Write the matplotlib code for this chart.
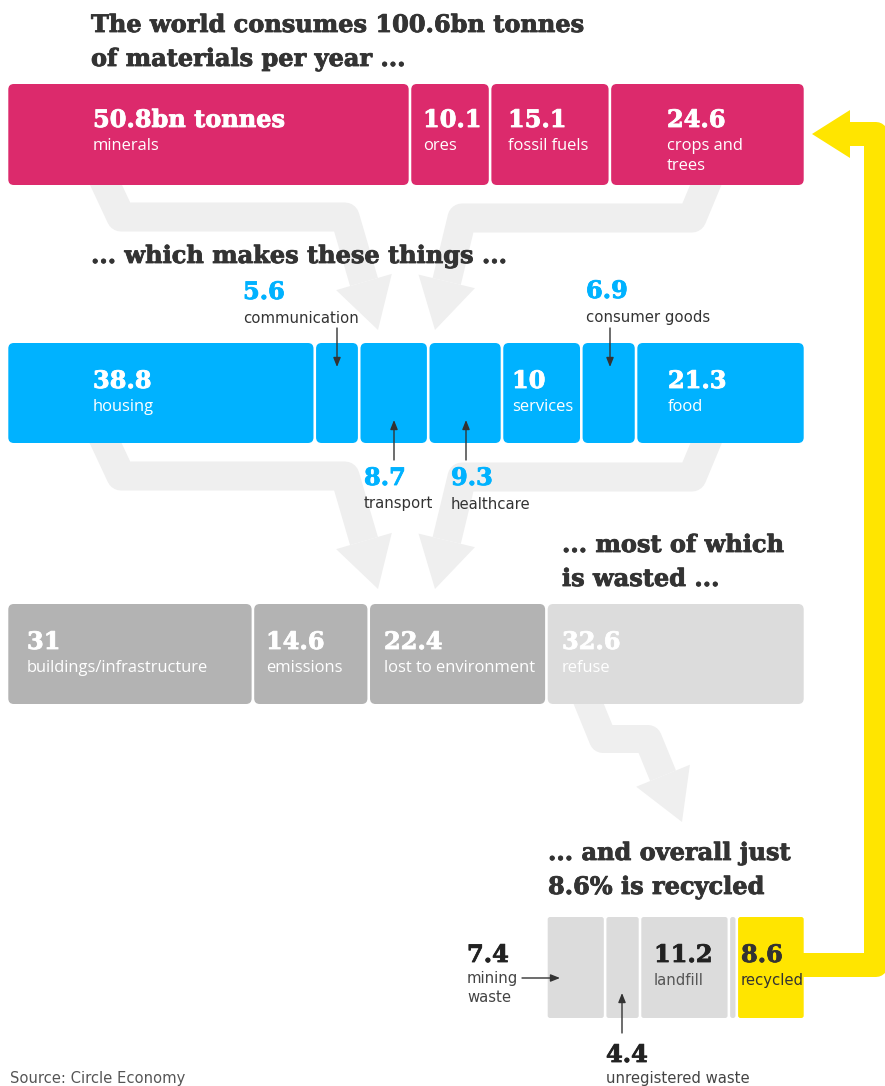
"""Where the world's 100.6bn tonnes of materials go, as a stacked-block flow graphic."""

import matplotlib.pyplot as plt
import matplotlib.patheffects as pe
import numpy as np
from matplotlib.patches import FancyBboxPatch, Polygon

OUTPUT_NAME = "out.png"

# bn tonnes per year
material_labels = ["minerals", "ores", "fossil fuels", "crops and\ntrees"]
material_values = [50.8, 10.1, 15.1, 24.6]

product_labels = ["housing", "communication", "transport", "healthcare",
                  "services", "consumer goods", "food"]
product_values = [38.8, 5.6, 8.7, 9.3, 10, 6.9, 21.3]

fate_labels = ["buildings/infrastructure", "emissions", "lost to environment", "refuse"]
fate_values = [31, 14.6, 22.4, 32.6]

waste_labels = ["mining\nwaste", "unregistered waste", "landfill", "", "recycled"]
waste_values = [7.4, 4.4, 11.2, 1.0, 8.6]

PINK = "#dc2a6c"
BLUE = "#00b2ff"
DARK_GREY = "#b3b3b3"
LIGHT_GREY = "#dcdcdc"
YELLOW = "#ffe500"
FLOW = "#efefef"
INK = "#333333"

SERIF = "DejaVu Serif"
SANS = "Open Sans"
AGATE = "DejaVu Sans"
NUM_PT = 17.3
LAB_PT = 11.9
AGATE_PT = 10.7

# x axis is in bn tonnes, y axis in pixels from the top
LEFT_PX = 7
SCALE = 798 / sum(material_values)


def u(px):
    """Pixel x position -> axis units."""
    return (px - LEFT_PX) / SCALE


def bold(color):
    return [pe.withStroke(linewidth=0.6, foreground=color)]


def draw_row(ax, values, colors, top, bottom, start=0.0, rounding=0.7):
    lefts = start + np.concatenate([[0], np.cumsum(values)[:-1]])
    gap = 1.3 / SCALE
    for left, value, color in zip(lefts, values, colors):
        ax.add_patch(FancyBboxPatch(
            (left + gap, top), value - 2 * gap, bottom - top,
            boxstyle=f"round,pad=0,rounding_size={rounding}",
            mutation_aspect=SCALE, fc=color, ec="none", zorder=3,
        ))
    return lefts


def flow(ax, pts, tip, width=29, color=FLOW, head_len=50, head_w=58, zorder=1):
    pts = np.array(pts, dtype=float)
    tip = np.array(tip, dtype=float)
    d = tip - pts[-1]
    d /= np.hypot(*d)
    base = tip - d * head_len
    perp = np.array([d[1], -d[0]])
    line = np.vstack([pts, base])
    ax.plot(u(line[:, 0]), line[:, 1], color=color, lw=width * 0.72,
            solid_joinstyle="round", solid_capstyle="butt", zorder=zorder)
    tri = np.array([base + perp * head_w / 2, tip, base - perp * head_w / 2])
    tri[:, 0] = u(tri[:, 0])
    ax.add_patch(Polygon(tri, closed=True, fc=color, ec="none", zorder=zorder))


def pointer(ax, x0, y0, x1, y1):
    ax.annotate("", xy=(u(x1), y1), xytext=(u(x0), y0), zorder=6,
                arrowprops=dict(arrowstyle="-|>,head_length=0.55,head_width=0.22",
                                color=INK, lw=1, shrinkA=0, shrinkB=0))


def value_text(ax, x, y, number, label, color, label_color=None, font=SANS,
               size=LAB_PT, gap=23, step=20):
    ax.text(u(x), y, number, family=SERIF, weight="bold", size=NUM_PT,
            color=color, va="baseline", zorder=6, path_effects=bold(color))
    for i, line in enumerate(label.split("\n")):
        ax.text(u(x), y + gap + i * step, line, family=font, size=size,
                color=label_color or color, va="baseline", zorder=6)


def heading(ax, x, y, lines):
    for i, line in enumerate(lines):
        ax.text(u(x), y + i * 34, line, family=SERIF, weight="bold", size=NUM_PT,
                color=INK, va="baseline", zorder=6, path_effects=bold(INK))


def fmt(v):
    return f"{v:g}"


def main():
    fig = plt.figure(figsize=(8.85, 10.86), dpi=100)
    ax = fig.add_axes([0, 0, 1, 1])
    ax.set_xlim(u(0), u(885))
    ax.set_ylim(1086, 0)
    ax.axis("off")

    # grey flow bands between the rows
    for shift in (0, 259):
        flow(ax, [(99, 170 + shift), (121, 217 + shift), (345, 217 + shift)], (378, 330 + shift))
        flow(ax, [(712, 170 + shift), (692, 218 + shift), (462, 218 + shift)], (435, 330 + shift))
    flow(ax, [(583, 690), (603, 739), (648, 739)], (682, 822), width=28)

    # yellow recycling loop
    loop = np.array([(790, 965), (876, 965), (876, 134), (850, 134)], dtype=float)
    ax.plot(u(loop[:, 0]), loop[:, 1], color=YELLOW, lw=24 * 0.72,
            solid_joinstyle="round", solid_capstyle="butt", zorder=2)
    ax.add_patch(Polygon([(u(850), 110), (u(812), 134), (u(850), 158)],
                         closed=True, fc=YELLOW, ec="none", zorder=2))

    # row 1: materials
    heading(ax, 91, 32, ["The world consumes 100.6bn tonnes", "of materials per year ..."])
    draw_row(ax, material_values, [PINK] * 4, 84, 185)
    mat_x = [93, 423, 508, 667]
    for i, (x, v, lab) in enumerate(zip(mat_x, material_values, material_labels)):
        num = fmt(v) + ("bn tonnes" if i == 0 else "")
        value_text(ax, x, 127, num, lab, "white")

    # row 2: products
    heading(ax, 91, 263, ["... which makes these things ..."])
    draw_row(ax, product_values, [BLUE] * 7, 343, 443)
    for i, x in [(0, 93), (4, 512), (6, 668)]:
        value_text(ax, x, 388, fmt(product_values[i]), product_labels[i], "white")
    for i, x, y, gap in [(1, 243, 299, 24), (5, 586, 298, 24),
                         (2, 364, 485, 23), (3, 451, 485, 24)]:
        value_text(ax, x, y, fmt(product_values[i]), product_labels[i], BLUE,
                   label_color=INK, font=AGATE, size=AGATE_PT, gap=gap)
    pointer(ax, 337, 328, 337, 367)
    pointer(ax, 610, 328, 610, 367)
    pointer(ax, 394, 460, 394, 420)
    pointer(ax, 466, 460, 466, 420)

    # row 3: fates
    heading(ax, 562, 552, ["... most of which", "is wasted ..."])
    draw_row(ax, fate_values, [DARK_GREY] * 3 + [LIGHT_GREY], 604, 704)
    for x, v, lab in zip([27, 266, 384, 562], fate_values, fate_labels):
        value_text(ax, x, 649, fmt(v), lab, "white")

    # row 4: waste, placed under refuse
    heading(ax, 548, 860, ["... and overall just", "8.6% is recycled"])
    draw_row(ax, waste_values, [LIGHT_GREY] * 4 + [YELLOW], 917, 1018,
             start=sum(fate_values[:-1]), rounding=0.3)
    value_text(ax, 467, 962, fmt(waste_values[0]), waste_labels[0], "#222222",
               label_color="#444444", font=AGATE, size=AGATE_PT, gap=21, step=19)
    value_text(ax, 606, 1062, fmt(waste_values[1]), waste_labels[1], "#222222",
               label_color="#444444", font=AGATE, size=AGATE_PT, gap=21)
    value_text(ax, 654, 962, fmt(waste_values[2]), waste_labels[2], "#222222",
               label_color="#555555", font=AGATE, size=AGATE_PT, gap=23)
    value_text(ax, 741, 962, fmt(waste_values[4]), waste_labels[4], INK,
               label_color=INK, font=AGATE, size=AGATE_PT, gap=23)
    pointer(ax, 522, 978, 560, 978)
    pointer(ax, 622, 1033, 622, 993)

    ax.text(u(10), 1083, "Source: Circle Economy", family=AGATE, size=10.6,
            color="#555555", va="baseline")

    fig.savefig(OUTPUT_NAME, dpi=100)


if __name__ == "__main__":
    main()
